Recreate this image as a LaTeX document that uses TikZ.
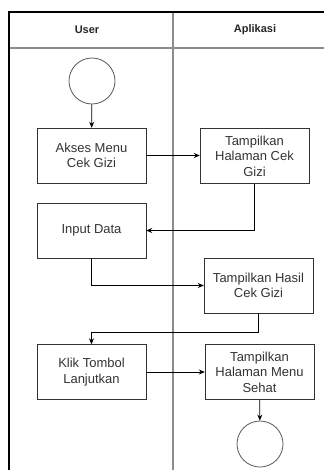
\documentclass[tikz,border=0pt]{standalone}
\usepackage{fontspec}
\setmainfont{Liberation Sans}
\usetikzlibrary{positioning,arrows.meta}

\begin{document}
\begin{tikzpicture}[x=1pt,y=-1pt,>={Stealth[length=6pt,width=5pt]},
	proses/.style={draw=black!80,text=black!80,minimum width=109pt,minimum height=55pt,align=center,inner sep=0pt,font=\fontsize{13}{15.5}\selectfont},
	titik/.style={circle,draw=black!65,line width=0.8pt,minimum size=46pt,inner sep=0pt},
	judul/.style={text=black!85,font=\bfseries\fontsize{11}{13}\selectfont},
	lajur/.style={draw=black!45,line width=1.2pt},
	alur/.style={->,line width=0.8pt}]
	\useasboundingbox (0,0) rectangle (324,470);

	% swimlane
	\draw[lajur] (9,48) -- (324,48);
	\draw[lajur] (173,12) -- (173,470);
	\draw[line width=1.2pt] (9,470) -- (9,12) -- (324,12);
	\node[judul] (user) at (87,30) {User};
	\node[judul] (app) at (255,30) {Aplikasi};

	% langkah
	\node[titik] (mulai) at (92,81) {};
	\node[proses] (akses) at (91.5,155.5) {Akses Menu\\Cek Gizi};
	\node[proses] (tampil) at (254.5,156) {Tampilkan\\Halaman Cek\\Gizi};
	\node[proses] (input) at (91.5,230.5) {Input Data};
	\node[proses] (hasil) at (258.5,285.5) {Tampilkan Hasil\\Cek Gizi};
	\node[proses] (klik) at (91.5,372) {Klik Tombol\\Lanjutkan};
	\node[proses] (menu) at (259.5,372) {Tampilkan\\Halaman Menu\\Sehat};
	\node[titik] (selesai) at (260,444) {};

	\draw[alur] (mulai) -- (akses);
	\draw[alur] (akses.east) -- (akses.east -| tampil.west);
	\draw[alur] (tampil.south) |- (input.east);
	\draw[alur] (input.south) |- (hasil.west);
	\draw[alur] (hasil.south) -- ++(0,19) -| (klik.north);
	\draw[alur] (klik) -- (menu);
	\draw[alur] (menu) -- (selesai);
\end{tikzpicture}
\end{document}
